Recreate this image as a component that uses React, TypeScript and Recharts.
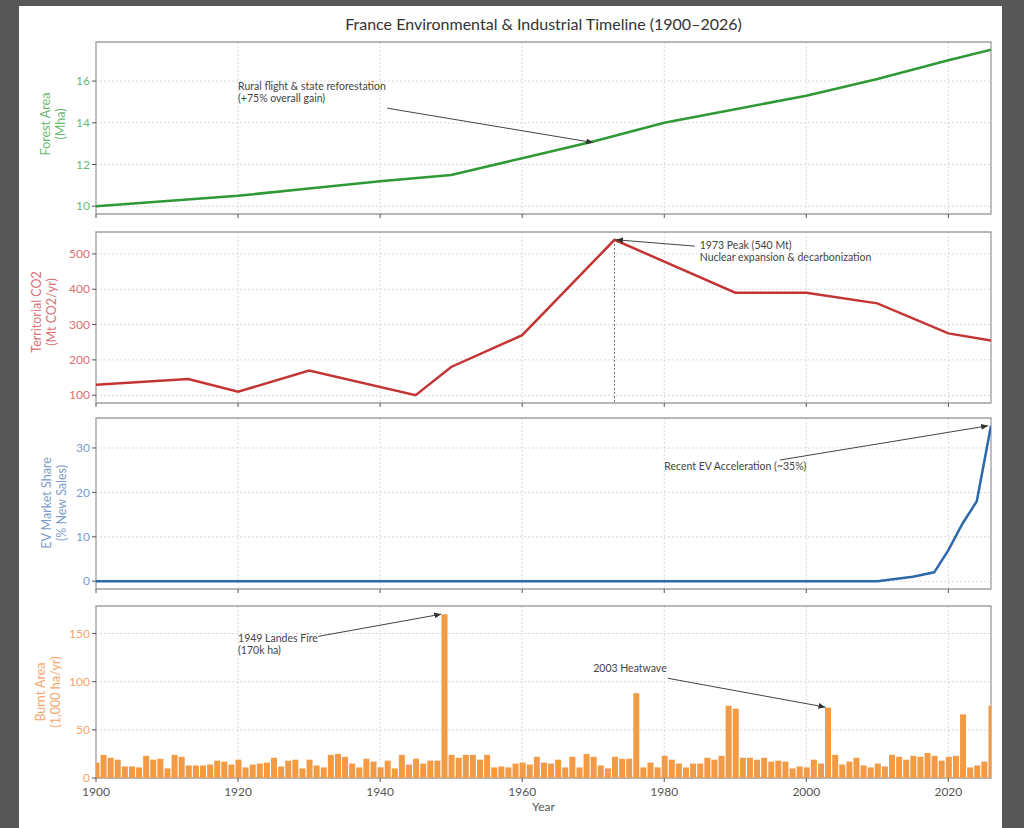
import {
  ComposedChart,
  Line,
  Bar,
  XAxis,
  YAxis,
  CartesianGrid,
  ReferenceLine,
  ReferenceDot,
  ReferenceArea,
} from "recharts";

const FONT = "Lato, 'Open Sans', sans-serif";

// shared x axis
const xTicks = [1900, 1920, 1940, 1960, 1980, 2000, 2020];
const xDomain = [1900, 2026];

// forest area (Mha)
const forestYears = [1900, 1910, 1920, 1930, 1940, 1950, 1960, 1970, 1980, 1990, 2000, 2010, 2020, 2026];
const forestMha = [10.0, 10.25, 10.5, 10.85, 11.2, 11.5, 12.3, 13.1, 14.0, 14.65, 15.3, 16.1, 17.0, 17.5];
const forestTicks = [10, 12, 14, 16];

// territorial CO2 (Mt CO2/yr)
const co2Years = [1900, 1913, 1920, 1930, 1945, 1950, 1960, 1973, 1990, 2000, 2010, 2020, 2026];
const co2Mt = [130, 146, 110, 170, 100, 180, 270, 540, 390, 390, 360, 275, 255];
const co2Ticks = [100, 200, 300, 400, 500];

// EV market share (% new sales)
const evYears = [1900, 1920, 1940, 1960, 1980, 2000, 2010, 2015, 2018, 2020, 2022, 2024, 2026];
const evShare = [0, 0, 0, 0, 0, 0, 0, 1, 2, 7, 13, 18, 35];
const evTicks = [0, 10, 20, 30];

// burnt area (1,000 ha/yr), one value per year 1900..2026
const burntYears = Array.from({ length: 127 }, (_, i) => 1900 + i);
const burntKha = [
  16, 24, 21, 19, 12, 12, 11, 23, 19, 20,
  10, 24, 22, 13, 13, 13, 14, 18, 17, 14,
  19, 11, 14, 15, 16, 21, 12, 18, 19, 10,
  19, 13, 11, 24, 25, 22, 15, 11, 20, 17,
  11, 18, 10, 24, 14, 20, 15, 18, 18, 170,
  24, 21, 24, 24, 19, 24, 11, 12, 11, 15,
  16, 14, 22, 16, 15, 19, 11, 22, 11, 25,
  22, 13, 10, 22, 20, 20, 88, 11, 16, 11,
  23, 19, 15, 11, 15, 15, 21, 19, 23, 75,
  72, 21, 21, 19, 21, 17, 18, 17, 10, 12,
  11, 19, 15, 73, 24, 14, 17, 21, 13, 11,
  15, 12, 24, 22, 19, 23, 22, 26, 23, 18,
  22, 23, 66, 11, 13, 17, 75,
];
const burntTicks = [0, 50, 100, 150];

const forestData = forestYears.map((year, i) => ({ year, v: forestMha[i] }));
const co2Data = co2Years.map((year, i) => ({ year, v: co2Mt[i] }));
const evData = evYears.map((year, i) => ({ year, v: evShare[i] }));
const burntData = burntYears.map((year, i) => ({ year, v: burntKha[i] }));

const GREEN = "#2f9a35";
const RED = "#c43434";
const BLUE = "#2d69a8";
const ORANGE = "#f39a45";

const CHART_W = 983;
const MARGIN = { top: 4, right: 11, left: 37, bottom: 0 };

const noteShape = (lines: string[]) => (p: any) => (
  <text x={p.cx} y={p.cy} fontSize={10.5} fill="#444" fontFamily={FONT}>
    {lines.map((l, i) => (
      <tspan key={i} x={p.cx} dy={i === 0 ? 0 : 12}>
        {l}
      </tspan>
    ))}
  </text>
);

const emptyTick = () => <g />;

const gridProps = { stroke: "#d9d9d9", strokeDasharray: "2 2" };

function xAxis(showLabels: boolean) {
  return (
    <XAxis
      type="number"
      dataKey="year"
      domain={xDomain}
      ticks={xTicks}
      allowDataOverflow
      axisLine={false}
      tickSize={4}
      tickMargin={5}
      tickLine={{ stroke: "#555" }}
      height={showLabels ? 30 : 10}
      tick={showLabels ? { fill: "#555", fontSize: 12, fontFamily: FONT } : emptyTick}
    />
  );
}

function yAxis(domain: number[], ticks: number[], color: string) {
  return (
    <YAxis
      type="number"
      domain={domain}
      ticks={ticks}
      allowDataOverflow
      width={40}
      axisLine={false}
      tickSize={4}
      tickLine={{ stroke: "#555" }}
      tick={{ fill: color, fontSize: 12, fontFamily: FONT }}
    />
  );
}

const frame = (yDomain: number[]) => (
  <ReferenceArea
    x1={xDomain[0]}
    x2={xDomain[1]}
    y1={yDomain[0]}
    y2={yDomain[1]}
    fill="none"
    stroke="#a3a3a3"
    strokeWidth={1.3}
  />
);

const arrowProps = { stroke: "#444", strokeWidth: 1, markerEnd: "url(#arrowHead)" };

const forestDomain = [9.625, 17.875];
const co2Domain = [78, 562];
const evDomain = [-1.75, 36.75];
const burntDomain = [0, 178.5];

const yLabels = [
  { lines: ["Forest Area", "(Mha)"], x: 53, y: 124, color: "#6cb870" },
  { lines: ["Territorial CO2", "(Mt CO2/yr)"], x: 44, y: 312, color: "#d97373" },
  { lines: ["EV Market Share", "(% New Sales)"], x: 54, y: 503, color: "#7c9dc9" },
  { lines: ["Burnt Area", "(1,000 ha/yr)"], x: 48, y: 692, color: "#f4a66b" },
];

export default function App() {
  return (
    <div
      style={{
        position: "absolute",
        left: 0,
        top: 0,
        width: 1024,
        height: 828,
        background: "#575757",
        overflow: "hidden",
        fontFamily: FONT,
      }}
    >
      <svg width={0} height={0} style={{ position: "absolute" }}>
        <defs>
          <marker
            id="arrowHead"
            markerWidth={7}
            markerHeight={6}
            refX={7}
            refY={3}
            orient="auto"
            markerUnits="userSpaceOnUse"
          >
            <path d="M0,0 L7,3 L0,6 z" fill="#333" />
          </marker>
        </defs>
      </svg>
      <div style={{ position: "absolute", left: 19, top: 6, width: 983, height: 822, background: "#fff" }} />

      <div
        style={{
          position: "absolute",
          left: 96,
          width: 895,
          top: 14,
          textAlign: "center",
          fontSize: 16,
          color: "#333",
        }}
      >
        France Environmental &amp; Industrial Timeline (1900–2026)
      </div>

      {/* forest */}
      <div style={{ position: "absolute", left: 19, top: 38 }}>
        <ComposedChart width={CHART_W} height={186} data={forestData} margin={MARGIN}>
          <CartesianGrid {...gridProps} />
          {xAxis(false)}
          {yAxis(forestDomain, forestTicks, "#6cb870")}
          {frame(forestDomain)}
          <Line type="linear" dataKey="v" stroke={GREEN} strokeWidth={2.5} dot={false} isAnimationActive={false} />
          <ReferenceLine segment={[{ x: 1941, y: 14.7 }, { x: 1970, y: 13.05 }]} {...arrowProps} />
          <ReferenceDot x={1920} y={15.57} r={0} shape={noteShape(["Rural flight & state reforestation", "(+75% overall gain)"])} />
        </ComposedChart>
      </div>

      {/* CO2 */}
      <div style={{ position: "absolute", left: 19, top: 228 }}>
        <ComposedChart width={CHART_W} height={185} data={co2Data} margin={MARGIN}>
          <CartesianGrid {...gridProps} />
          {xAxis(false)}
          {yAxis(co2Domain, co2Ticks, "#d97373")}
          {frame(co2Domain)}
          <ReferenceLine
            segment={[{ x: 1973, y: 540 }, { x: 1973, y: co2Domain[0] }]}
            stroke="#666"
            strokeDasharray="2 2"
          />
          <Line type="linear" dataKey="v" stroke={RED} strokeWidth={2.5} dot={false} isAnimationActive={false} />
          <ReferenceLine segment={[{ x: 1984.3, y: 522 }, { x: 1973.2, y: 540 }]} {...arrowProps} />
          <ReferenceDot x={1985} y={515} r={0} shape={noteShape(["1973 Peak (540 Mt)", "Nuclear expansion & decarbonization"])} />
        </ComposedChart>
      </div>

      {/* EV */}
      <div style={{ position: "absolute", left: 19, top: 414 }}>
        <ComposedChart width={CHART_W} height={185} data={evData} margin={MARGIN}>
          <CartesianGrid {...gridProps} />
          {xAxis(false)}
          {yAxis(evDomain, evTicks, "#7c9dc9")}
          {frame(evDomain)}
          <Line type="linear" dataKey="v" stroke={BLUE} strokeWidth={2.5} dot={false} isAnimationActive={false} />
          <ReferenceLine segment={[{ x: 1996.3, y: 27.3 }, { x: 2025.6, y: 35 }]} {...arrowProps} />
          <ReferenceDot x={1980} y={25} r={0} shape={noteShape(["Recent EV Acceleration (~35%)"])} />
        </ComposedChart>
      </div>

      {/* burnt area */}
      <div style={{ position: "absolute", left: 19, top: 602 }}>
        <ComposedChart width={CHART_W} height={206} data={burntData} margin={MARGIN}>
          <CartesianGrid {...gridProps} />
          {xAxis(true)}
          {yAxis(burntDomain, burntTicks, "#f4a66b")}
          <Bar dataKey="v" fill={ORANGE} barSize={6} isAnimationActive={false} />
          {frame(burntDomain)}
          <ReferenceLine segment={[{ x: 1931.3, y: 147 }, { x: 1948.6, y: 170 }]} {...arrowProps} />
          <ReferenceDot x={1920} y={141.4} r={0} shape={noteShape(["1949 Landes Fire", "(170k ha)"])} />
          <ReferenceLine segment={[{ x: 1980.5, y: 103.5 }, { x: 2002.7, y: 73.5 }]} {...arrowProps} />
          <ReferenceDot x={1970} y={109.8} r={0} shape={noteShape(["2003 Heatwave"])} />
        </ComposedChart>
      </div>

      <div
        style={{
          position: "absolute",
          left: 96,
          width: 895,
          top: 799,
          textAlign: "center",
          fontSize: 12,
          color: "#555",
        }}
      >
        Year
      </div>

      <svg width={1024} height={828} style={{ position: "absolute", left: 0, top: 0, pointerEvents: "none" }}>
        {yLabels.map((lab, i) => (
          <g key={i}>
            {lab.lines.map((line, j) => {
              const x = lab.x + (j === 0 ? -7.5 : 7.5);
              return (
                <text
                  key={j}
                  x={x}
                  y={lab.y}
                  fontSize={12.5}
                  fill={lab.color}
                  fontFamily={FONT}
                  textAnchor="middle"
                  dominantBaseline="central"
                  transform={`rotate(-90 ${x} ${lab.y})`}
                >
                  {line}
                </text>
              );
            })}
          </g>
        ))}
      </svg>
    </div>
  );
}
